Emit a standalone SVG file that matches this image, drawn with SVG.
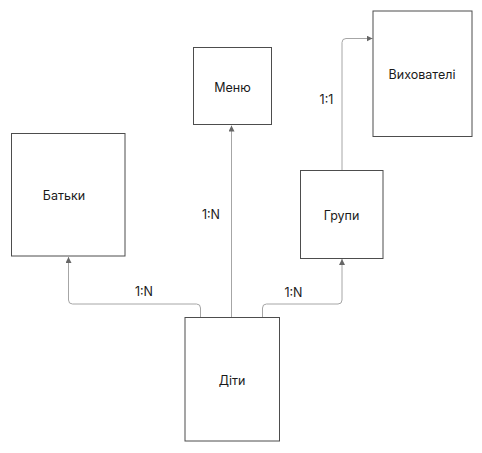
<svg xmlns="http://www.w3.org/2000/svg" width="482" height="453" viewBox="0 0 482 453">
<style>
.box{fill:#fff;stroke:#4d4d4d;stroke-width:1}
.t{font-family:Inter,"Noto Sans",sans-serif;font-size:12.5px;fill:#1a1a1a;text-anchor:middle;dominant-baseline:central}
.c{fill:none;stroke:#a6a6a6;stroke-width:1}
.l{font-family:Inter,"Noto Sans",sans-serif;font-size:12.5px;fill:#1a1a1a;text-anchor:middle;dominant-baseline:central}
</style>
<defs>
<marker id="ah" viewBox="0 0 10 10" refX="10" refY="5" markerWidth="6" markerHeight="6" markerUnits="userSpaceOnUse" orient="auto">
<path d="M0,0 L10,5 L0,10 Z" fill="#666"/>
</marker>
</defs>
<rect width="482" height="453" fill="#fff"/>
<g id="connectors">
<path class="c" d="M231.5,317.5 V125.5" marker-end="url(#ah)"/>
<path class="c" d="M200.5,317.5 V308 Q200.5,304 196.5,304 H72.5 Q68.5,304 68.5,300 V257" marker-end="url(#ah)"/>
<path class="c" d="M262.5,317.5 V308 Q262.5,304 266.5,304 H338 Q342,304 342,300 V259" marker-end="url(#ah)"/>
<path class="c" d="M342,170 V42.5 Q342,38.5 346,38.5 H372.5" marker-end="url(#ah)"/>
<text class="l" x="144" y="291.5">1:N</text>
<text class="l" x="293.5" y="292.5">1:N</text>
<text class="l" x="211" y="214.5">1:N</text>
<text class="l" x="326.5" y="99.5">1:1</text>
</g>
<g id="menu"><rect class="box" x="193.5" y="47.5" width="78" height="77"/><text class="t" x="232.5" y="87">Меню</text></g>
<g id="vykhovateli"><rect class="box" x="373" y="11" width="99" height="125.5"/><text class="t" x="422" y="74">Вихователі</text></g>
<g id="batky"><rect class="box" x="11.5" y="133.5" width="113.5" height="122.5"/><text class="t" x="64" y="195">Батьки</text></g>
<g id="hrupy"><rect class="box" x="300.5" y="170.5" width="82.5" height="88"/><text class="t" x="341.5" y="215">Групи</text></g>
<g id="dity"><rect class="box" x="185" y="317.5" width="94.5" height="123.5"/><text class="t" x="232" y="380">Діти</text></g>
</svg>
